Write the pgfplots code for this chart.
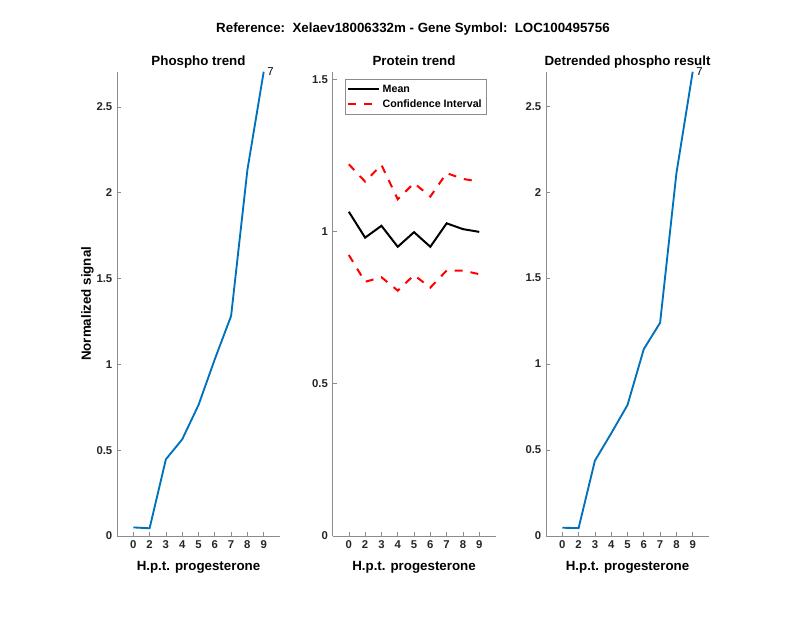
\documentclass[border=0pt]{standalone}
\usepackage{fontspec}
\setmainfont{Liberation Sans}
\usepackage{pgfplots}
\pgfplotsset{compat=1.18}
\definecolor{mblue}{rgb}{0,0.447,0.741}
\definecolor{axgray}{rgb}{0.55,0.55,0.55}
\definecolor{mred}{rgb}{1,0,0}
\pgfplotsset{
  mystyle/.style={
    scale only axis, width=122.25pt, height=348.2pt,
    anchor=south west,
    xmin=0, xmax=10, xtick={1,...,9}, xticklabels={0,2,3,4,5,6,7,8,9},
    axis x line*=bottom, axis y line*=left,
    axis line style={draw=axgray, line width=0.5pt, -},
    tick style={draw=axgray, line width=0.5pt},
    tick align=inside, major tick length=3pt,
    /pgf/number format/assume math mode=true,
    tick label style={font=\bfseries\fontsize{8.5}{10}\selectfont, text=black!85},
    title style={font=\bfseries\fontsize{10}{12}\selectfont, at={(axis description cs:0.5,1)}, anchor=base, yshift=-1pt},
    xlabel style={font=\bfseries\fontsize{10}{12}\selectfont, at={(axis description cs:0.5,0)}, anchor=base, yshift=-25.9pt},
    ylabel style={font=\bfseries\fontsize{10}{12}\selectfont, at={(axis description cs:-0.16,0.5)}, anchor=base},
    xlabel={H.p.t. progesterone},
    clip=false,
  }
}
\pgfplotstableread{
x phos det
1 0.050 0.048
2 0.045 0.046
3 0.447 0.438
4 0.563 0.597
5 0.763 0.762
6 1.030 1.087
7 1.282 1.240
8 2.133 2.109
9 2.705 2.700
}\phostab
\pgfplotstableread{
x mean up lo
1 1.065 1.221 0.923
2 0.980 1.164 0.835
3 1.019 1.219 0.850
4 0.950 1.106 0.806
5 0.998 1.159 0.857
6 0.950 1.115 0.816
7 1.027 1.192 0.872
8 1.008 1.173 0.872
9 0.999 1.164 0.860
}\prottab
\begin{document}
\begin{tikzpicture}
\path[use as bounding box] (0,0) rectangle (600pt,463.5pt);
\node[font=\bfseries\fontsize{10}{12}\selectfont, anchor=base] at (309.75pt,438.75pt) {Reference:\ \ Xelaev18006332m - Gene Symbol:\ \ LOC100495756};
% left
\begin{axis}[mystyle, at={(87.75pt,61.5pt)}, ymin=0, ymax=2.705,
  ytick={0,0.5,1,1.5,2,2.5}, yticklabels={0,0.5,1,1.5,2,2.5},
  title={Phospho trend}, ylabel={Normalized signal}]
\addplot[mblue, line width=1.4pt] table[x=x,y=phos] {\phostab};
\node[anchor=west, font=\fontsize{8.5}{10}\selectfont, inner sep=2.5pt] at (axis cs:9,2.705) {7};
\end{axis}
% middle
\begin{axis}[mystyle, at={(249.4pt,61.5pt)}, ymin=0, ymax=1.525,
  ytick={0,0.5,1,1.5}, yticklabels={0,0.5,1,1.5},
  title={Protein trend},
  legend style={at={(axis description cs:0.077,0.984)}, anchor=north west,
    font=\bfseries\fontsize{8}{9.5}\selectfont, inner xsep=1.5pt, inner ysep=2pt},
  every axis legend/.append style={draw=axgray},
  legend cell align=left,
  legend image code/.code={\draw[#1] (0pt,0pt) -- (23pt,0pt);}]
\addplot[draw=black, line width=1.5pt] table[x=x,y=mean] {\prottab};
\addlegendentry{Mean}
\addplot[draw=mred, line width=1.5pt, dash pattern=on 6pt off 6pt] table[x=x,y=up] {\prottab};
\addlegendentry{Confidence Interval}
\addplot[draw=mred, line width=1.5pt, dash pattern=on 6pt off 6pt, forget plot] table[x=x,y=lo] {\prottab};
\end{axis}
% right
\begin{axis}[mystyle, at={(409.5pt,61.5pt)}, ymin=0, ymax=2.70,
  ytick={0,0.5,1,1.5,2,2.5}, yticklabels={0,0.5,1,1.5,2,2.5},
  title={Detrended phospho result}]
\addplot[mblue, line width=1.4pt] table[x=x,y=det] {\phostab};
\node[anchor=west, font=\fontsize{8.5}{10}\selectfont, inner sep=2.5pt] at (axis cs:9,2.70) {7};
\end{axis}
\end{tikzpicture}
\end{document}
